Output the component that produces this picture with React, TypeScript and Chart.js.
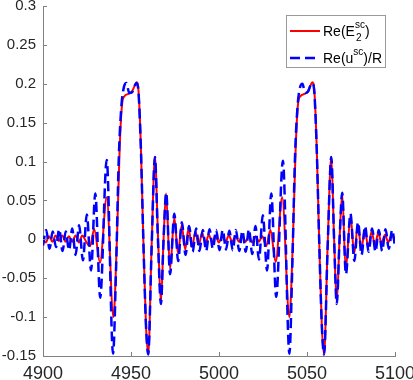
import React, { useEffect, useRef } from 'react';
import { Chart, registerables } from 'chart.js';

Chart.register(...registerables);

// Re(E2^sc) — red solid
const redX = [
  4900.0, 4901.6, 4903.4, 4905.3, 4907.1, 4909.0, 4910.9, 4912.8, 4914.7, 4916.6,
  4918.5, 4920.4, 4922.3, 4924.5, 4926.7, 4929.1, 4932.4, 4936.2, 4940.0, 4942.0,
  4943.6, 4945.0, 4946.3, 4948.5, 4950.5, 4952.0, 4953.2, 4954.3, 4955.6, 4957.0,
  4958.5, 4959.8, 4961.7, 4963.6, 4965.4, 4967.0, 4968.5, 4969.9, 4972.2, 4974.6,
  4976.7, 4978.8, 4980.8, 4982.7, 4984.7, 4986.6, 4988.5, 4990.4, 4992.3, 4994.2,
  4996.1, 4998.0, 4999.9, 5001.8, 5003.7, 5005.6, 5007.5, 5009.4, 5011.3, 5013.2,
  5015.1, 5017.0, 5018.9, 5020.8, 5022.7, 5024.6, 5026.8, 5029.2, 5032.2, 5035.9,
  5040.0, 5042.0, 5043.6, 5045.0, 5046.3, 5048.5, 5050.5, 5052.0, 5053.0, 5054.2,
  5055.5, 5056.9, 5058.4, 5059.7, 5061.7, 5063.8, 5065.4, 5066.9, 5068.5, 5070.0,
  5072.0, 5074.7, 5076.8, 5078.9, 5080.9, 5082.8, 5084.8, 5086.7, 5088.6, 5090.5,
  5092.4, 5094.3, 5096.2, 5098.1, 5100.0,
];
const redY = [
  0.000, -0.004, 0.004, -0.003, 0.005, -0.002, 0.005, -0.003, 0.004, -0.003,
  0.005, -0.004, 0.005, -0.003, -0.009, 0.013, -0.030, 0.054, -0.100, 0.000,
  0.120, 0.175, 0.184, 0.187, 0.190, 0.197, 0.202, 0.190, 0.120, 0.000,
  -0.110, -0.148, -0.010, 0.106, 0.000, -0.081, 0.000, 0.059, -0.038, 0.028,
  -0.018, 0.018, -0.013, 0.014, -0.010, 0.010, -0.007, 0.008, -0.005, 0.006,
  -0.004, 0.005, -0.004, 0.004, -0.003, 0.005, -0.003, 0.004, -0.003, 0.005,
  -0.003, 0.004, -0.004, 0.004, -0.003, 0.004, -0.009, 0.012, -0.029, 0.054,
  -0.100, 0.000, 0.120, 0.176, 0.184, 0.187, 0.190, 0.198, 0.202, 0.190,
  0.120, 0.000, -0.110, -0.148, -0.010, 0.106, 0.000, -0.081, 0.000, 0.059,
  -0.039, 0.030, -0.018, 0.018, -0.013, 0.013, -0.010, 0.010, -0.007, 0.008,
  -0.005, 0.006, -0.004, 0.006, -0.003,
];

// Re(u^sc)/R — blue dashed
const blueX = [
  4900.0, 4901.8, 4903.7, 4905.5, 4907.4, 4909.2, 4911.1, 4912.9, 4914.8, 4916.6,
  4918.5, 4920.5, 4922.7, 4924.9, 4927.3, 4929.7, 4932.5, 4936.2, 4939.8, 4941.6,
  4943.0, 4944.5, 4946.0, 4947.4, 4949.0, 4950.6, 4952.0, 4953.1, 4954.3, 4955.6,
  4957.0, 4958.5, 4959.8, 4961.7, 4963.6, 4965.3, 4967.0, 4968.5, 4970.0, 4972.2,
  4974.6, 4976.8, 4978.9, 4981.0, 4983.0, 4985.0, 4987.0, 4988.9, 4990.8, 4992.7,
  4994.6, 4996.5, 4998.4, 5000.3, 5002.1, 5004.0, 5005.9, 5007.8, 5009.6, 5011.5,
  5013.3, 5015.2, 5017.0, 5018.9, 5020.7, 5022.7, 5024.9, 5027.3, 5029.7, 5032.5,
  5036.3, 5040.0, 5041.7, 5043.1, 5044.6, 5046.0, 5047.4, 5049.0, 5050.6, 5052.0,
  5053.0, 5054.2, 5055.5, 5056.9, 5058.4, 5059.7, 5061.7, 5063.8, 5065.4, 5066.9,
  5068.5, 5070.0, 5072.1, 5074.7, 5076.9, 5079.0, 5081.0, 5083.0, 5085.0, 5087.0,
  5088.9, 5090.8, 5092.7, 5094.6, 5096.5, 5098.4, 5100.0,
];
const blueY = [
  -0.008, 0.012, -0.012, 0.010, -0.010, 0.013, -0.015, 0.010, -0.014, 0.014,
  -0.020, 0.018, -0.027, 0.032, -0.040, 0.059, -0.075, 0.102, -0.147, -0.030,
  0.100, 0.170, 0.196, 0.201, 0.188, 0.189, 0.197, 0.201, 0.188, 0.118,
  0.000, -0.110, -0.148, -0.012, 0.106, 0.000, -0.083, 0.000, 0.060, -0.045,
  0.033, -0.028, 0.022, -0.020, 0.017, -0.016, 0.014, -0.015, 0.012, -0.015,
  0.013, -0.012, 0.012, -0.014, 0.012, -0.013, 0.011, -0.014, 0.012, -0.015,
  0.011, -0.016, 0.013, -0.019, 0.017, -0.026, 0.031, -0.040, 0.059, -0.074,
  0.101, -0.147, -0.030, 0.100, 0.170, 0.195, 0.200, 0.188, 0.190, 0.198,
  0.201, 0.188, 0.118, 0.000, -0.110, -0.148, -0.012, 0.106, 0.000, -0.083,
  0.000, 0.060, -0.045, 0.033, -0.028, 0.022, -0.020, 0.017, -0.016, 0.014,
  -0.016, 0.012, -0.015, 0.013, -0.012, 0.012, -0.010,
];

const xTicks = [4900, 4950, 5000, 5050, 5100];
const yTicks = [-0.15, -0.1, -0.05, 0, 0.05, 0.1, 0.15, 0.2, 0.25, 0.3];

const legendBase = ['Re(E', 'Re(u'];
const legendSup = ['sc', 'sc'];
const legendSub = ['2', ''];
const legendTail = [')', ')/R'];

const RED = '#ff0000';
const BLUE = '#0000ff';
const AXIS = '#808080';
const TEXT = '#262626';
const FONT = '"Liberation Sans", Arial, Helvetica, sans-serif';

const inwardTicks = {
  id: 'inwardTicks',
  afterDatasetsDraw(chart: any) {
    const { ctx, chartArea: a, scales } = chart;
    const x = scales.x;
    const y = scales.y;
    ctx.save();
    ctx.strokeStyle = AXIS;
    ctx.lineWidth = 1;
    ctx.beginPath();
    xTicks.forEach((v) => {
      const px = Math.round(x.getPixelForValue(v)) + 0.5;
      ctx.moveTo(px, a.bottom);
      ctx.lineTo(px, a.bottom - 4);
    });
    yTicks.forEach((v) => {
      const py = Math.round(y.getPixelForValue(v)) + 0.5;
      ctx.moveTo(a.left, py);
      ctx.lineTo(a.left + 4, py);
    });
    ctx.stroke();
    ctx.restore();
  },
};

const customLegend = {
  id: 'customLegend',
  afterDraw(chart: any) {
    const ctx = chart.ctx;
    ctx.save();
    const bx = 286, by = 15, bw = 99, bh = 52;
    ctx.fillStyle = '#ffffff';
    ctx.fillRect(bx, by, bw, bh);
    ctx.strokeStyle = '#9a9a9a';
    ctx.lineWidth = 1;
    ctx.strokeRect(bx + 0.5, by + 0.5, bw, bh);
    const styles = [
      { color: RED, dash: [] as number[], width: 2, ly: 31, base: 36 },
      { color: BLUE, dash: [10, 5], width: 2.5, ly: 58, base: 63 },
    ];
    styles.forEach((s, i) => {
      ctx.strokeStyle = s.color;
      ctx.lineWidth = s.width;
      ctx.setLineDash(s.dash);
      ctx.beginPath();
      ctx.moveTo(290, s.ly);
      ctx.lineTo(320, s.ly);
      ctx.stroke();
      ctx.setLineDash([]);
      ctx.fillStyle = '#000000';
      ctx.textBaseline = 'alphabetic';
      ctx.textAlign = 'left';
      let tx = 323;
      ctx.font = `14px ${FONT}`;
      ctx.fillText(legendBase[i], tx, s.base);
      tx += ctx.measureText(legendBase[i]).width;
      ctx.font = `10px ${FONT}`;
      const supW = ctx.measureText(legendSup[i]).width;
      ctx.fillText(legendSup[i], tx, s.base - 8);
      let subW = 0;
      if (legendSub[i]) {
        subW = ctx.measureText(legendSub[i]).width;
        ctx.fillText(legendSub[i], tx + 1, s.base + 5);
      }
      tx += Math.max(supW, subW + 1);
      ctx.font = `14px ${FONT}`;
      ctx.fillText(legendTail[i], tx, s.base);
    });
    ctx.restore();
  },
};

export default function App() {
  const ref = useRef<HTMLCanvasElement>(null);
  useEffect(() => {
    if (!ref.current) return;
    const chart = new Chart(ref.current, {
      type: 'line',
      data: {
        datasets: [
          {
            label: 'Re(u^sc)/R',
            data: blueX.map((x, i) => ({ x, y: blueY[i] })),
            borderColor: BLUE,
            borderWidth: 2.5,
            borderDash: [10, 5],
            pointRadius: 0,
            fill: false,
            cubicInterpolationMode: 'monotone',
          },
          {
            label: 'Re(E2^sc)',
            data: redX.map((x, i) => ({ x, y: redY[i] })),
            borderColor: RED,
            borderWidth: 2,
            pointRadius: 0,
            fill: false,
            cubicInterpolationMode: 'monotone',
          },
        ],
      },
      options: {
        animation: false,
        responsive: false,
        devicePixelRatio: 1,
        layout: { padding: { left: 0, right: 18, top: 6, bottom: 0 } },
        plugins: { legend: { display: false }, tooltip: { enabled: false } },
        scales: {
          x: {
            type: 'linear',
            min: 4900,
            max: 5100,
            afterBuildTicks: (s: any) => {
              s.ticks = xTicks.map((v) => ({ value: v }));
            },
            afterFit: (s: any) => {
              s.height = 24;
              s.paddingLeft = 0;
              s.paddingRight = 0;
            },
            grid: { display: false, drawTicks: false },
            border: { display: true, color: AXIS, width: 1 },
            ticks: {
              autoSkip: false,
              maxRotation: 0,
              padding: 7,
              color: TEXT,
              font: { family: FONT, size: 18 },
              callback: (v: any) => String(v),
            },
          },
          y: {
            type: 'linear',
            min: -0.15,
            max: 0.3,
            afterBuildTicks: (s: any) => {
              s.ticks = yTicks.map((v) => ({ value: v }));
            },
            afterFit: (s: any) => {
              s.width = 43;
              s.paddingTop = 0;
              s.paddingBottom = 0;
            },
            grid: { display: false, drawTicks: false },
            border: { display: true, color: AXIS, width: 1 },
            ticks: {
              autoSkip: false,
              padding: 7,
              color: TEXT,
              font: { family: FONT, size: 15 },
              callback: (v: any) => String(Number(Number(v).toFixed(2))),
            },
          },
        },
      },
      plugins: [inwardTicks, customLegend],
    } as any);
    return () => chart.destroy();
  }, []);
  return (
    <div style={{ position: 'fixed', left: 0, top: 0, width: 413, height: 380, background: '#fff' }}>
      <canvas ref={ref} width={413} height={380} style={{ display: 'block' }} />
    </div>
  );
}
